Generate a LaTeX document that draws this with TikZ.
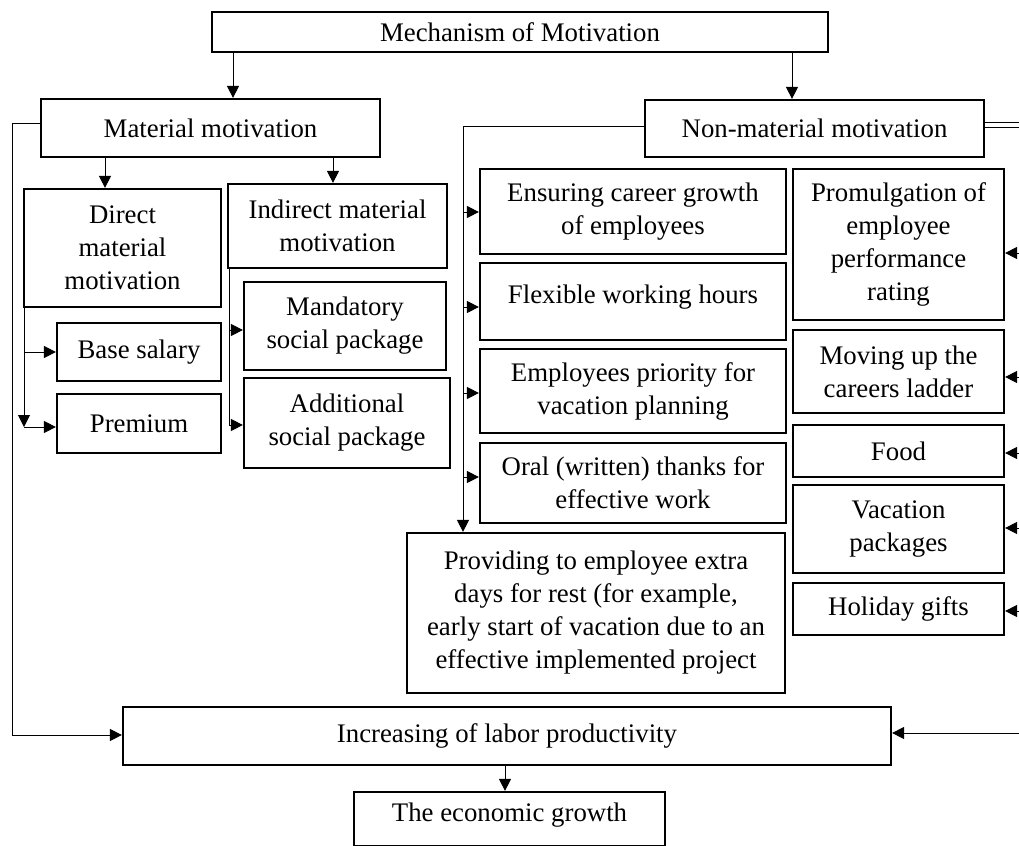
\documentclass[tikz,border=0pt]{standalone}
\usepackage{fontspec}
\setmainfont{Liberation Serif}
\usetikzlibrary{fit,arrows.meta}
\begin{document}
\begin{tikzpicture}[x=0.5pt,y=-0.5pt,
  box/.style={draw, line width=1.1pt, inner sep=0pt},
  txt/.style={align=center, inner sep=0pt, font=\fontsize{13.4}{16.5}\selectfont},
  conn/.style={line width=0.5pt, -{Triangle[length=6pt,width=6pt]}},
  plain/.style={line width=0.5pt}]
\useasboundingbox (0,0) rectangle (1019,846);
\clip (0,0) rectangle (1019,846);
% boxes
\node[box, fit={(212,12) (828,52)}, label={[txt]center:Mechanism of Motivation}] (mm) {};
\node[box, fit={(41,99) (380,157)}, label={[txt]center:Material motivation}] (mat) {};
\node[box, fit={(645,100) (984,157)}, label={[txt]center:Non-material motivation}] (nm) {};
\node[box, fit={(24,189) (221,307)}, label={[txt]center:{Direct\\material\\motivation}}] (dir) {};
\node[box, fit={(228,184) (447,268)}, label={[txt]center:{Indirect material\\motivation}}] (ind) {};
\node[box, fit={(57,323) (221,381)}, label={[txt]center:Base salary}] (bs) {};
\node[box, fit={(57,394) (221,453)}, label={[txt]center:Premium}] (pr) {};
\node[box, fit={(244,282) (446,370)}, label={[txt]center:{Mandatory\\social package}}] (man) {};
\node[box, fit={(244,378) (450,468)}, label={[txt]center:{Additional\\social package}}] (add) {};
\node[box, fit={(480,169) (786,254)}, label={[txt]center:{Ensuring career growth\\of employees}}] (ens) {};
\node[box, fit={(480,263) (786,340)}, label={[txt,yshift=2pt]center:Flexible working hours}] (flex) {};
\node[box, fit={(480,349) (786,433)}, label={[txt]center:{Employees priority for\\vacation planning}}] (emp) {};
\node[box, fit={(480,443) (786,523)}, label={[txt]center:{Oral (written) thanks for\\effective work}}] (oral) {};
\node[box, fit={(407,533) (785,693)}, label={[txt]center:{Providing to employee extra\\days for rest (for example,\\early start of vacation due to an\\effective implemented project}}] (prov) {};
\node[box, fit={(793,169) (1004,320)}, label={[txt]center:{Promulgation of\\employee\\performance\\rating}}] (pro) {};
\node[box, fit={(793,330) (1004,413)}, label={[txt]center:{Moving up the\\careers ladder}}] (mov) {};
\node[box, fit={(793,425) (1004,477)}, label={[txt]center:Food}] (food) {};
\node[box, fit={(793,485) (1004,573)}, label={[txt]center:{Vacation\\packages}}] (vac) {};
\node[box, fit={(793,583) (1004,635)}, label={[txt]center:Holiday gifts}] (hol) {};
\node[box, fit={(123,707) (891,765)}, label={[txt]center:Increasing of labor productivity}] (inc) {};
\node[box, fit={(354,792) (665,846)}, label={[txt,yshift=2pt]center:The economic growth}] (eco) {};
% helper coordinates
\coordinate (xa) at (233,0);
\coordinate (xb) at (792,0);
\coordinate (xc) at (105,0);
\coordinate (xd) at (333,0);
\coordinate (xe) at (505,0);
\coordinate (L1) at (12,123);
\coordinate (L2) at (12,735);
\coordinate (D1) at (24,352);
\coordinate (D2) at (24,427);
\coordinate (I1) at (229,330);
\coordinate (I2) at (229,425);
\coordinate (N0) at (463,126);
\coordinate (N1) at (463,212);
\coordinate (N2) at (463,307);
\coordinate (N3) at (463,393);
\coordinate (N4) at (463,477);
\coordinate (R1) at (1019,122);
\coordinate (R2) at (1019,127);
\coordinate (Q1) at (1019,253);
\coordinate (Q2) at (1019,377);
\coordinate (Q3) at (1019,453);
\coordinate (Q4) at (1019,528);
\coordinate (Q5) at (1019,611);
\coordinate (Q6) at (1019,733);
% connectors
\draw[conn] (mm.south -| xa) -- (mat.north -| xa);
\draw[conn] (mm.south -| xb) -- (nm.north -| xb);
\draw[conn] (mat.west |- L1) -- (L1) -- (L2) -- (inc.west |- L2);
\draw[conn] (mat.south -| xc) -- (dir.north -| xc);
\draw[conn] (mat.south -| xd) -- (ind.north -| xd);
\draw[conn] (dir.south -| D1) -- (D2);
\draw[conn] (D1) -- (bs.west |- D1);
\draw[conn] (D2) -- (pr.west |- D2);
\draw[plain] (ind.south -| I1) -- (I2);
\draw[conn] (I1) -- (man.west |- I1);
\draw[conn] (I2) -- (add.west |- I2);
\draw[conn] (nm.west |- N0) -- (N0) -- (prov.north -| N0);
\draw[conn] (N1) -- (ens.west |- N1);
\draw[conn] (N2) -- (flex.west |- N2);
\draw[conn] (N3) -- (emp.west |- N3);
\draw[conn] (N4) -- (oral.west |- N4);
\draw[plain] (nm.east |- R1) -- (R1);
\draw[plain] (nm.east |- R2) -- (R2);
\draw[conn] (Q1) -- (pro.east |- Q1);
\draw[conn] (Q2) -- (mov.east |- Q2);
\draw[conn] (Q3) -- (food.east |- Q3);
\draw[conn] (Q4) -- (vac.east |- Q4);
\draw[conn] (Q5) -- (hol.east |- Q5);
\draw[conn] (Q6) -- (inc.east |- Q6);
\draw[conn] (inc.south -| xe) -- (eco.north -| xe);
\end{tikzpicture}
\end{document}
